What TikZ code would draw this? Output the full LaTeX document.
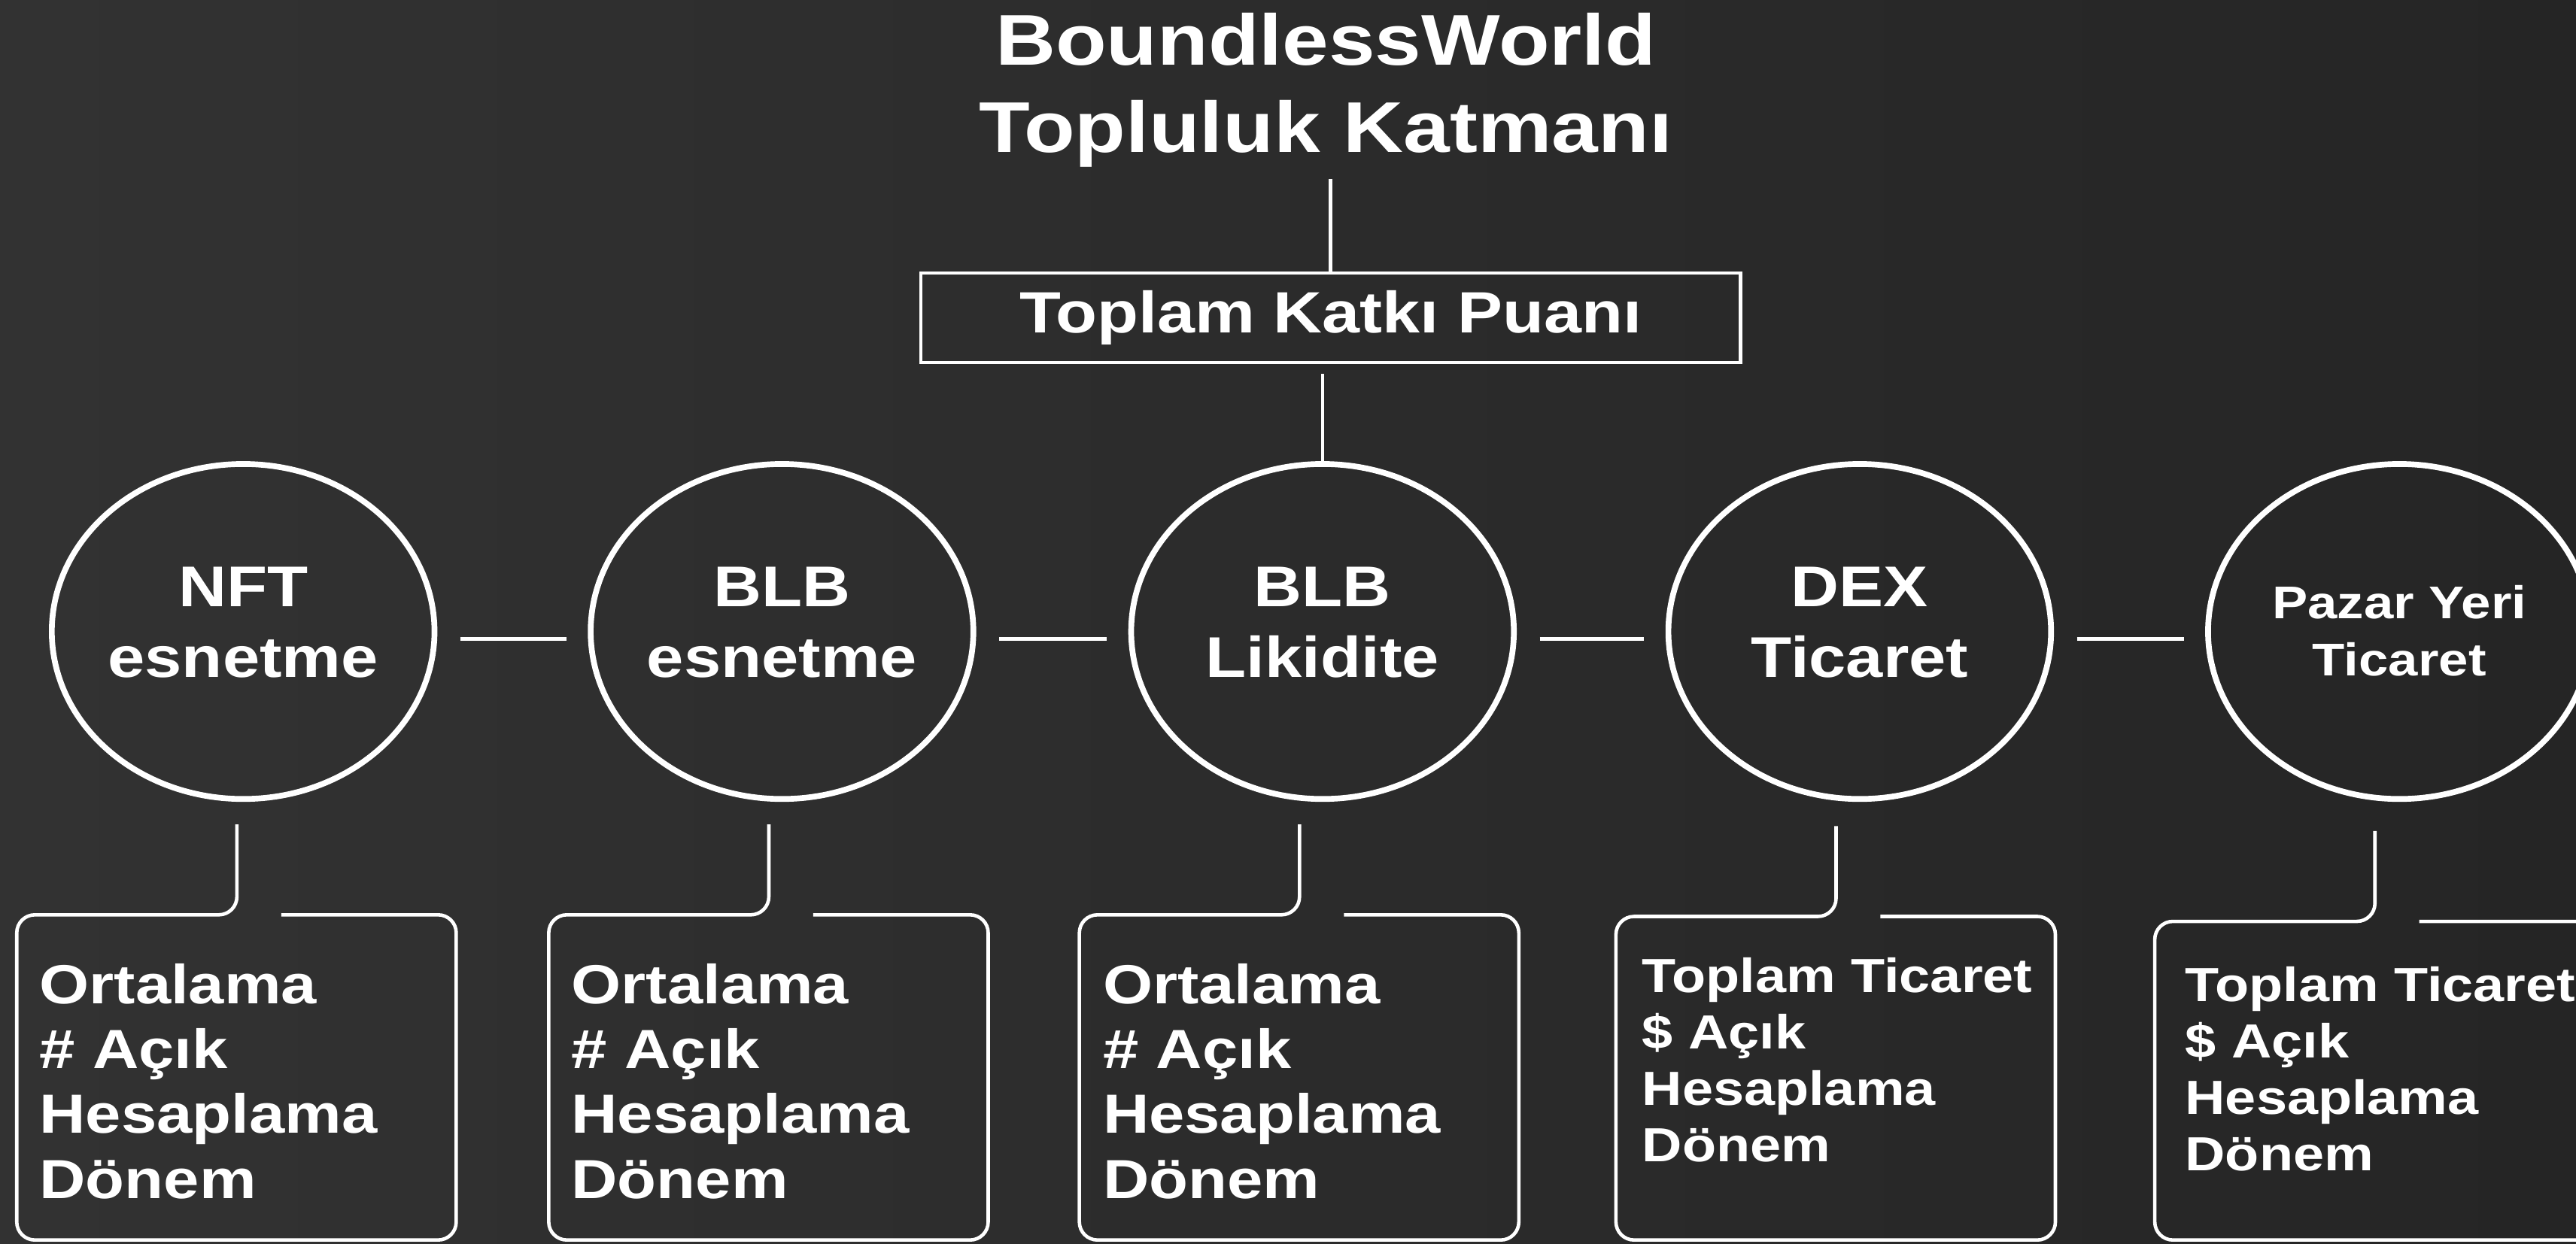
\documentclass[tikz,border=0pt]{standalone}
\usepackage{fontspec}
\setmainfont{Liberation Sans}[FakeStretch=1.16]
\usetikzlibrary{shapes.geometric}
\definecolor{bgleft}{RGB}{50,50,50}
\definecolor{bgright}{RGB}{37,37,37}
\begin{document}
\begin{tikzpicture}[x=0.02cm, y=-0.02cm,
    every node/.style={text=white},
    hub/.style={ellipse, draw=white, line width=2pt, minimum width=4.66cm,
        minimum height=4.08cm, inner sep=0pt},
    hubtext/.style={align=center, inner sep=0pt,
        font=\bfseries\fontsize{19.9}{24.5}\selectfont},
    smalltext/.style={font=\bfseries\fontsize{15.9}{19.9}\selectfont},
    boxtext/.style={anchor=north west, align=left, inner sep=0pt,
        font=\bfseries\fontsize{19.1}{22.5}\selectfont},
    tradetext/.style={font=\bfseries\fontsize{16.6}{19.6}\selectfont},
    link/.style={draw=white, line width=1.2pt},
    bar/.style={draw=white, line width=1.5pt},
    callout/.style={draw=white, line width=1.2pt, rounded corners=0.22cm}]
    \useasboundingbox (0,0) rectangle (1568,757);
    \shade[left color=bgleft, right color=bgright] (0,0) rectangle (1568,757);
    \clip (0,0) rectangle (1568,757);
    % title and score
    \node[anchor=north, align=center, inner sep=0pt,
        font=\bfseries\fontsize{24.9}{30.3}\selectfont] (title) at (807,7.6)
        {BoundlessWorld\\Topluluk Katmanı};
    \node[draw=white, line width=1.2pt, minimum width=9.98cm, minimum height=1.09cm,
        inner sep=0pt, font=\bfseries\fontsize{20.2}{24}\selectfont] (total)
        at (810,193.4) {Toplam Katkı Puanı};
    % five sources
    \foreach \x/\i/\txt in {148/1/{NFT\\esnetme},476/2/{BLB\\esnetme},
        805/3/{BLB\\Likidite},1132/4/{DEX\\Ticaret}}
    {
        \node[hub] (c\i) at (\x,384.5) {};
        \node[hubtext] (t\i) at (\x,379) {\txt};
    }
    \node[hub] (c5) at (1460.5,384.5) {};
    \node[hubtext, smalltext] (t5) at (1460.5,384) {Pazar Yeri\\Ticaret};
    \draw[link] (total.north) -- ++(0,-56);
    \draw[link] (c3.north) -- ++(0,-53);
    \foreach \a/\b in {1/2,2/3,3/4,4/5}
    \draw[bar] ([shift={(14,4.5)}]c\a.east) -- ([shift={(-13,4.5)}]c\b.west);
    % metric boxes
    \foreach \l/\t/\v/\i in {10.2/557/502/1,334/557/502/2,657/557/502/3,
        983.6/558/503/4,1311.6/561/506/5}
    {
        \coordinate (k\i) at (\l+134,\v);
        \draw[callout] (k\i) -- (\l+134,\t) -- (\l,\t) -- (\l,755)
            -- (\l+267.5,755) -- (\l+267.5,\t) -- (\l+161,\t);
    }
    \node[boxtext] (b1) at (23.7,586.3) {Ortalama\\\# Açık\\Hesaplama\\Dönem};
    \node[boxtext] (b2) at (347.5,586.3) {Ortalama\\\# Açık\\Hesaplama\\Dönem};
    \node[boxtext] (b3) at (671,586.3) {Ortalama\\\# Açık\\Hesaplama\\Dönem};
    \node[boxtext, tradetext] (b4) at (999.2,582.6)
        {Toplam Ticaret\\\$ Açık\\Hesaplama\\Dönem};
    \node[boxtext, tradetext] (b5) at (1329.8,588.1)
        {Toplam Ticaret\\\$ Açık\\Hesaplama\\Dönem};
\end{tikzpicture}
\end{document}
